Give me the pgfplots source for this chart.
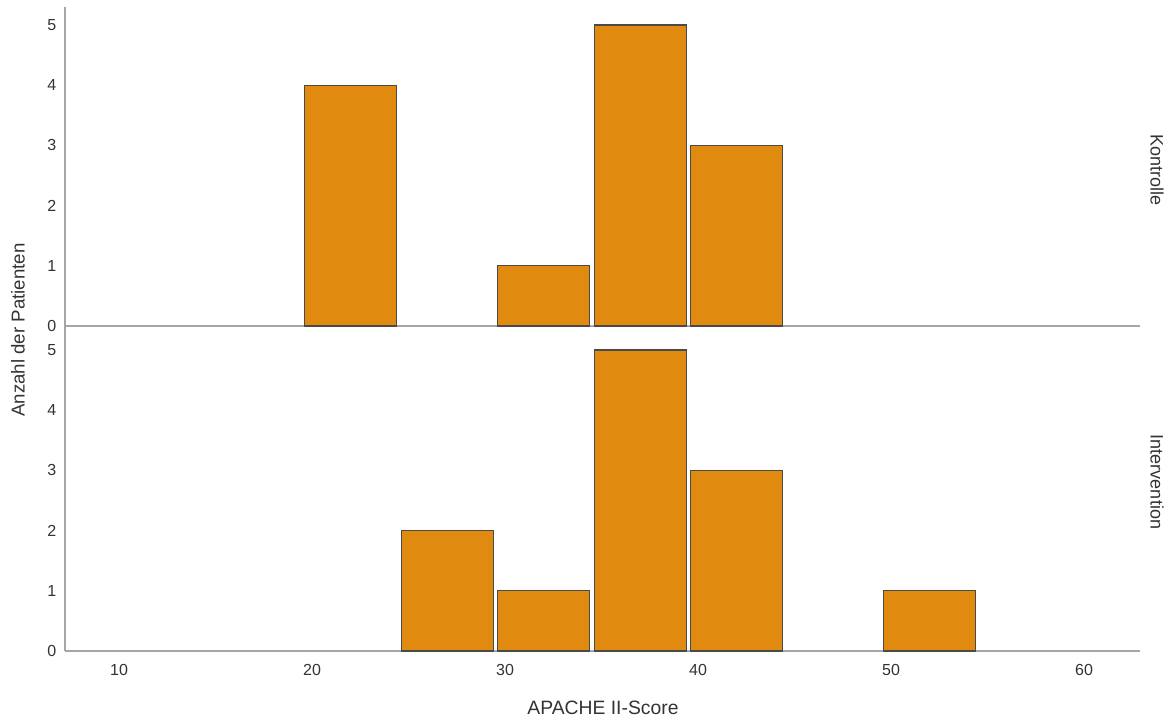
\documentclass[border=0pt]{standalone}
\usepackage{fontspec}
\setmainfont{Liberation Sans}
\usepackage{pgfplots}
\pgfplotsset{compat=1.18}
\definecolor{barfill}{HTML}{E08A0F}
\definecolor{baredge}{HTML}{4A4A4A}
\definecolor{axgray}{HTML}{A6A6A6}
\definecolor{txt}{HTML}{333333}
\begin{document}
\begin{tikzpicture}[x=1pt,y=1pt]
\path[use as bounding box] (0,0) rectangle (879,541.5);
\pgfplotsset{panel/.style={
  scale only axis, width=806.25pt,
  xmin=7.2, xmax=62.9, ymin=0,
  axis lines=left,
  axis line style={-, draw=axgray, line width=1.5pt},
  major tick length=0pt,
  ytick={0,...,5}, xtick={10,20,...,60},
  ybar, bar width=4.77, bar shift=0pt,
  tick label style={font=\fontsize{12}{14}\selectfont, text=txt},
  xticklabel style={yshift=-6.5pt},
  yticklabel style={xshift=-3pt},
  /pgf/number format/assume math mode=true,
  clip=false}}
% Kontrolle
\begin{axis}[panel, at={(48.75pt,297pt)}, anchor=south west,
  height=239.25pt, ymax=5.3, xticklabels={}]
\addplot[fill=barfill, draw=baredge, line width=0.9pt]
  coordinates {(22,4) (32,1) (37,5) (42,3)};
\end{axis}
% Intervention
\begin{axis}[panel, at={(48.75pt,53.25pt)}, anchor=south west,
  height=243.75pt, ymax=5.4]
\addplot[fill=barfill, draw=baredge, line width=0.9pt]
  coordinates {(27,2) (32,1) (37,5) (42,3) (52,1)};
\end{axis}
\node[rotate=-90, text=txt, font=\fontsize{13.5}{16}\selectfont] at (867.75,414) {Kontrolle};
\node[rotate=-90, text=txt, font=\fontsize{13.5}{16}\selectfont] at (867.75,180) {Intervention};
\node[rotate=90, text=txt, font=\fontsize{14}{16}\selectfont] at (13.5,294) {Anzahl der Patienten};
\node[text=txt, font=\fontsize{14.5}{17}\selectfont] at (452.25,10.5) {APACHE II-Score};
\end{tikzpicture}
\end{document}
